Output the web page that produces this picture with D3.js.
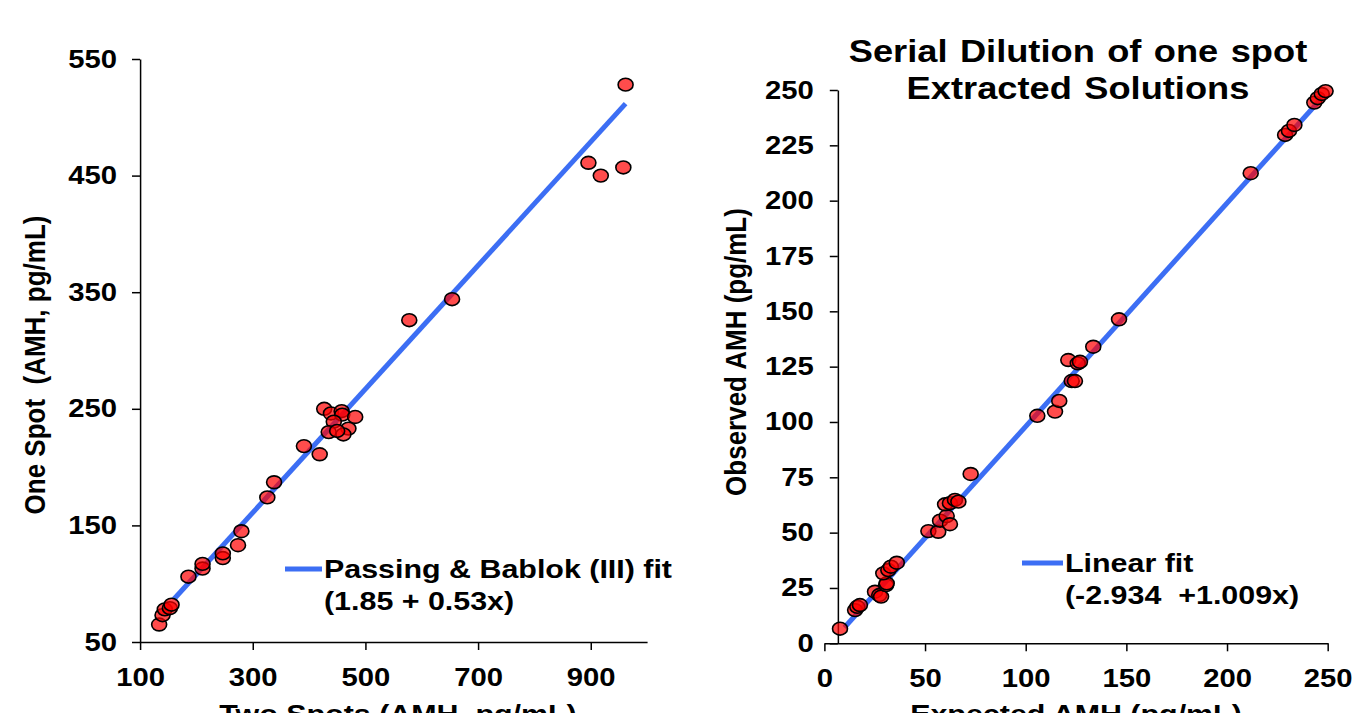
<!DOCTYPE html>
<html>
<head>
<meta charset="utf-8">
<script src="https://cdn.jsdelivr.net/npm/d3@7"></script>
<style>
  body { margin: 0; background: #fff; }
</style>
</head>
<body>
<script>
// left panel: one spot vs two spots
var twoSpots = [134, 140, 144, 153, 156, 186, 211, 211, 247, 247, 274, 280, 326, 338, 391, 419,
  427, 439, 458, 459, 444, 482, 470, 435, 461, 450, 578, 654, 896, 918, 958, 962];
var oneSpot = [65, 73, 78, 79, 82, 106, 113, 117, 122, 126, 133, 145, 174, 187, 218, 211,
  250, 246, 248, 245, 239, 243, 233, 230, 228, 231, 326, 344, 461, 450, 457, 528];
var leftXTicks = [100, 300, 500, 700, 900];
var leftYTicks = [50, 150, 250, 350, 450, 550];
var leftFit = [1.85, 0.53];      // intercept, slope
var leftFitRange = [160, 962];

// right panel: serial dilution
var expected = [7.8, 15.3, 16.4, 17.7, 25.2, 27.3, 28.2, 30.7, 31.0, 29.3, 31.8, 33.1, 36.0,
  51.7, 56.6, 57.5, 60.8, 62.4, 60.0, 62.4, 64.9, 66.6, 72.7, 105.8, 114.6, 116.7, 121.2,
  125.9, 127.0, 122.9, 124.5, 133.6, 146.4, 211.8, 228.9, 230.8, 233.5, 243.4, 245.1, 247.1, 249.0];
var observed = [6.6, 15.0, 16.5, 17.3, 23.3, 21.8, 21.1, 26.3, 27.1, 31.6, 33.1, 34.6, 36.4,
  50.7, 50.4, 55.4, 57.5, 53.8, 62.8, 63.3, 64.8, 64.0, 76.5, 102.8, 104.7, 109.5, 128.0,
  126.5, 127.2, 118.5, 118.5, 134.0, 146.4, 212.4, 229.7, 231.5, 234.2, 244.3, 246.3, 248.2, 249.5];
var rightXTicks = [0, 50, 100, 150, 200, 250];
var rightYTicks = [0, 25, 50, 75, 100, 125, 150, 175, 200, 225, 250];
var rightFit = [-2.934, 1.009];
var rightFitRange = [10, 247];

var w = 1359;
var h = 713;
var SX = 1.17; // the original picture is stretched sideways
var font = "'Liberation Sans', Arial, sans-serif";
var blue = '#3c6ef4';

function sx(px) {
  return px / SX;
}

var svg = d3.select('body').append('svg').attr('width', w).attr('height', h);
var g = svg.append('g').attr('transform', 'scale(' + SX + ',1)');

function styleAxis(sel, fontSize) {
  sel.attr('font-family', font).attr('font-size', fontSize).attr('font-weight', 'bold');
  sel.selectAll('path.domain, .tick line')
    .attr('stroke', '#000')
    .attr('stroke-width', 1.5)
    .attr('vector-effect', 'non-scaling-stroke');
  sel.selectAll('.tick text').attr('fill', '#000');
}

function drawPanel(opt) {
  var x = d3.scaleLinear().domain(opt.xDomain).range(opt.xRange);
  var y = d3.scaleLinear().domain(opt.yDomain).range(opt.yRange);

  var xAxis = g.append('g')
    .attr('transform', 'translate(0,' + y(opt.yDomain[0]) + ')')
    .call(d3.axisBottom(x).tickValues(opt.xTicks).tickSize(8).tickSizeOuter(0).tickPadding(18));
  styleAxis(xAxis, 25);

  var yAxis = g.append('g')
    .attr('transform', 'translate(' + x(opt.yAxisAt) + ',0)')
    .call(d3.axisLeft(y).tickValues(opt.yTicks).tickSize(sx(8)).tickSizeOuter(0).tickPadding(opt.yPad));
  styleAxis(yAxis, 25);

  // fit line under the points
  g.append('line')
    .attr('x1', x(opt.fitRange[0]))
    .attr('y1', y(opt.fit[0] + opt.fit[1] * opt.fitRange[0]))
    .attr('x2', x(opt.fitRange[1]))
    .attr('y2', y(opt.fit[0] + opt.fit[1] * opt.fitRange[1]))
    .attr('stroke', blue)
    .attr('stroke-width', 5)
    .attr('vector-effect', 'non-scaling-stroke');

  g.append('g')
    .selectAll('circle')
    .data(opt.xs)
    .enter()
    .append('circle')
    .attr('cx', function (d) { return x(d); })
    .attr('cy', function (d, i) { return y(opt.ys[i]); })
    .attr('r', 6.4)
    .attr('fill', '#ff0000')
    .attr('fill-opacity', 0.7)
    .attr('stroke', '#000')
    .attr('stroke-width', 1.6)
    .attr('vector-effect', 'non-scaling-stroke');

  // legend
  g.append('line')
    .attr('x1', sx(opt.legend[0]))
    .attr('x2', sx(opt.legend[1]))
    .attr('y1', opt.legend[2])
    .attr('y2', opt.legend[2])
    .attr('stroke', blue)
    .attr('stroke-width', 5)
    .attr('vector-effect', 'non-scaling-stroke');
  g.append('g')
    .selectAll('text')
    .data(opt.legendText)
    .enter()
    .append('text')
    .attr('x', sx(opt.legend[1] + 2))
    .attr('y', function (d, i) { return opt.legend[2] + 9 + i * 32; })
    .attr('font-family', font)
    .attr('font-size', 26)
    .attr('font-weight', 'bold')
    .attr('xml:space', 'preserve')
    .style('white-space', 'pre')
    .text(function (d) { return d; });

  // axis titles
  g.append('text')
    .attr('x', sx(opt.xTitleAt))
    .attr('y', 723)
    .attr('text-anchor', 'middle')
    .attr('font-family', font)
    .attr('font-size', 26)
    .attr('font-weight', 'bold')
    .text(opt.xTitle);
  g.append('text')
    .attr('transform', 'translate(' + sx(opt.yTitleAt[0]) + ',' + opt.yTitleAt[1] + ') rotate(-90)')
    .attr('text-anchor', 'middle')
    .attr('font-family', font)
    .attr('font-size', 26)
    .attr('font-weight', 'bold')
    .style('white-space', 'pre')
    .text(opt.yTitle);
}

drawPanel({
  xs: twoSpots, ys: oneSpot,
  xDomain: [100, 1000], xRange: [sx(140), sx(647)],
  yDomain: [50, 550], yRange: [642, 59],
  xTicks: leftXTicks, yTicks: leftYTicks, yAxisAt: 100, yPad: sx(15),
  fit: leftFit, fitRange: leftFitRange,
  legend: [285, 322, 569],
  legendText: ['Passing & Bablok (III) fit', '(1.85 + 0.53x)'],
  xTitle: 'Two Spots (AMH, pg/mL)', xTitleAt: 398,
  yTitle: 'One Spot  (AMH, pg/mL)', yTitleAt: [45, 365]
});

drawPanel({
  xs: expected, ys: observed,
  xDomain: [0, 250], xRange: [sx(824.3), sx(1327.6)],
  yDomain: [0, 250], yRange: [643.3, 90],
  xTicks: rightXTicks, yTicks: rightYTicks, yAxisAt: 6.7, yPad: sx(16),
  fit: rightFit, fitRange: rightFitRange,
  legend: [1022, 1063, 563],
  legendText: ['Linear fit', '(-2.934  +1.009x)'],
  xTitle: 'Expected AMH (pg/mL)', xTitleAt: 1076,
  yTitle: 'Observed AMH (pg/mL)', yTitleAt: [746, 352]
});

// title of the right panel
g.append('g')
  .selectAll('text')
  .data(['Serial Dilution of one spot', 'Extracted Solutions'])
  .enter()
  .append('text')
  .attr('x', sx(1078))
  .attr('y', function (d, i) { return 62 + i * 37; })
  .attr('text-anchor', 'middle')
  .attr('font-family', font)
  .attr('font-size', 31)
  .attr('font-weight', 'bold')
  .attr('word-spacing', 2)
  .text(function (d) { return d; });
</script>
</body>
</html>
